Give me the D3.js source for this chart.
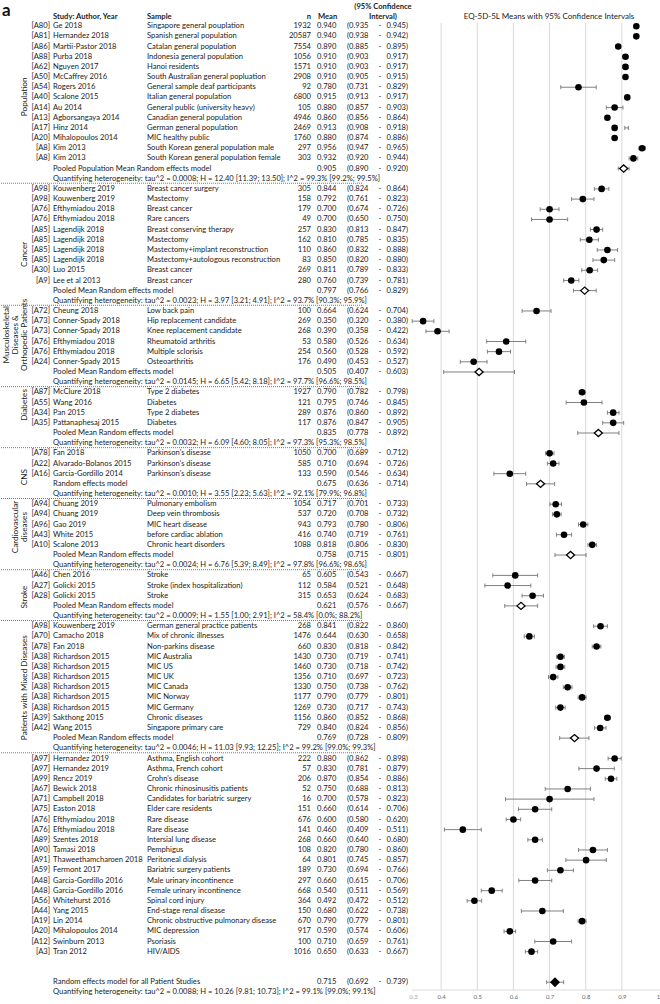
<!DOCTYPE html>
<html><head><meta charset="utf-8">
<script src="https://cdn.jsdelivr.net/npm/d3@7"></script>
<style>
body{margin:0;background:#fff;}
svg{display:block;font-family:Lato,"Open Sans",sans-serif;}
</style></head>
<body><svg id="c" width="660" height="1004"></svg>
<script>
// ---------------- DATA ----------------
// [ref, author/year, sample, n, mean, lower, upper]
const populationStudies = [
 ["[A80]","Ge 2018","Singapore general pouplation",1932,0.940,0.935,0.945],
 ["[A81]","Hernandez 2018","Spanish general population",20587,0.940,0.938,0.942],
 ["[A86]","Martii-Pastor 2018","Catalan general  population",7554,0.890,0.885,0.895],
 ["[A88]","Purba 2018","Indonesia general population",1056,0.910,0.903,0.917],
 ["[A62]","Nguyen 2017","Hanoi residents",1571,0.910,0.903,0.917],
 ["[A50]","McCaffrey 2016","South Australian general popluation",2908,0.910,0.905,0.915],
 ["[A54]","Rogers 2016","General sample deaf participants",92,0.780,0.731,0.829],
 ["[A40]","Scalone 2015","Italian general population",6800,0.915,0.913,0.917],
 ["[A14]","Au 2014","General public (university heavy)",105,0.880,0.857,0.903],
 ["[A13]","Agborsangaya 2014","Canadian general population",4946,0.860,0.856,0.864],
 ["[A17]","Hinz 2014","German general population",2469,0.913,0.908,0.918],
 ["[A20]","Mihalopoulos 2014","MIC healthy public",1760,0.880,0.874,0.886],
 ["[A8]","Kim 2013","South Korean general population male",297,0.956,0.947,0.965],
 ["[A8]","Kim 2013","South Korean general population female",303,0.932,0.920,0.944]
];
const cancerStudies = [
 ["[A98]","Kouwenberg 2019","Breast cancer surgery",305,0.844,0.824,0.864],
 ["[A98]","Kouwenberg 2019","Mastectomy",158,0.792,0.761,0.823],
 ["[A76]","Efthymiadou 2018","Breast cancer",179,0.700,0.674,0.726],
 ["[A76]","Efthymiadou 2018","Rare cancers",49,0.700,0.650,0.750],
 ["[A85]","Lagendijk 2018","Breast conserving therapy",257,0.830,0.813,0.847],
 ["[A85]","Lagendijk 2018","Mastectomy",162,0.810,0.785,0.835],
 ["[A85]","Lagendijk 2018","Mastectomy+implant reconstruction",110,0.860,0.832,0.888],
 ["[A85]","Lagendijk 2018","Mastectomy+autologous reconstruction",83,0.850,0.820,0.880],
 ["[A30]","Luo 2015","Breast cancer",269,0.811,0.789,0.833],
 ["[A9]","Lee et al 2013","Breast cancer",280,0.760,0.739,0.781]
];
const muscStudies = [
 ["[A72]","Cheung 2018","Low back pain",100,0.664,0.624,0.704],
 ["[A73]","Conner-Spady 2018","Hip replacement candidate",269,0.350,0.320,0.380],
 ["[A73]","Conner-Spady 2018","Knee replacement candidate",268,0.390,0.358,0.422],
 ["[A76]","Efthymiadou 2018","Rheumatoid arthritis",53,0.580,0.526,0.634],
 ["[A76]","Efthymiadou 2018","Multiple sclorisis",254,0.560,0.528,0.592],
 ["[A24]","Conner-Spady 2015","Osteoarthritis",176,0.490,0.453,0.527]
];
const diabetesStudies = [
 ["[A87]","McClure 2018","Type 2 diabetes",1927,0.790,0.782,0.798],
 ["[A55]","Wang 2016","Diabetes",121,0.795,0.746,0.845],
 ["[A34]","Pan 2015","Type 2 diabetes",289,0.876,0.860,0.892],
 ["[A35]","Pattanaphesaj 2015","Diabetes",117,0.876,0.847,0.905]
];
const cnsStudies = [
 ["[A78]","Fan 2018","Parkinson's disease",1050,0.700,0.689,0.712],
 ["[A22]","Alvarado-Bolanos 2015","Parkinson's disease",585,0.710,0.694,0.726],
 ["[A16]","Garcia-Gordillo 2014","Parkinson's disease",133,0.590,0.546,0.634]
];
const cardioStudies = [
 ["[A94]","Chuang 2019","Pulmonary embolism",1054,0.717,0.701,0.733],
 ["[A94]","Chuang 2019","Deep vein thrombosis",537,0.720,0.708,0.732],
 ["[A96]","Gao 2019","MIC heart disease",943,0.793,0.780,0.806],
 ["[A43]","White 2015","before cardiac ablation",416,0.740,0.719,0.761],
 ["[A10]","Scalone 2013","Chronic heart disorders",1088,0.818,0.806,0.830]
];
const strokeStudies = [
 ["[A46]","Chen 2016","Stroke",65,0.605,0.543,0.667],
 ["[A27]","Golicki 2015","Stroke (index hospitalization)",112,0.584,0.521,0.648],
 ["[A28]","Golicki 2015","Stroke",315,0.653,0.624,0.683]
];
const mixedStudies = [
 ["[A98]","Kouwenberg 2019","German general practice patients",268,0.841,0.822,0.860],
 ["[A70]","Camacho 2018","Mix of chronic illnesses",1476,0.644,0.630,0.658],
 ["[A78]","Fan 2018","Non-parkins disease",660,0.830,0.818,0.842],
 ["[A38]","Richardson 2015","MIC Australia",1430,0.730,0.719,0.741],
 ["[A38]","Richardson 2015","MIC US",1460,0.730,0.718,0.742],
 ["[A38]","Richardson 2015","MIC UK",1356,0.710,0.697,0.723],
 ["[A38]","Richardson 2015","MIC Canada",1330,0.750,0.738,0.762],
 ["[A38]","Richardson 2015","MIC Norway",1177,0.790,0.779,0.801],
 ["[A38]","Richardson 2015","MIC Germany",1269,0.730,0.717,0.743],
 ["[A39]","Sakthong 2015","Chronic diseases",1156,0.860,0.852,0.868],
 ["[A42]","Wang 2015","Singapore primary care",729,0.840,0.824,0.856]
];
const otherStudies = [
 ["[A97]","Hernandez 2019","Asthma, English cohort",222,0.880,0.862,0.898],
 ["[A97]","Hernandez 2019","Asthma, French cohort",57,0.830,0.781,0.879],
 ["[A99]","Rencz 2019","Crohn's disease",206,0.870,0.854,0.886],
 ["[A67]","Bewick 2018","Chronic rhinosinusitis patients",52,0.750,0.688,0.813],
 ["[A71]","Campbell 2018","Candidates for bariatric surgery",16,0.700,0.578,0.823],
 ["[A75]","Easton 2018","Elder care residents",151,0.660,0.614,0.706],
 ["[A76]","Efthymiadou 2018","Rare disease",676,0.600,0.580,0.620],
 ["[A76]","Efthymiadou 2018","Rare disease",141,0.460,0.409,0.511],
 ["[A89]","Szentes 2018","Intersial lung disease",268,0.660,0.640,0.680],
 ["[A90]","Tamasi 2018","Pemphigus",108,0.820,0.780,0.860],
 ["[A91]","Thaweethamcharoen 2018","Peritoneal dialysis",64,0.801,0.745,0.857],
 ["[A59]","Fermont 2017","Bariatric surgery patients",189,0.730,0.694,0.766],
 ["[A48]","Garcia-Gordillo 2016","Male urinary incontinence",297,0.660,0.615,0.706],
 ["[A48]","Garcia-Gordillo 2016","Female urinary incontinence",668,0.540,0.511,0.569],
 ["[A56]","Whitehurst 2016","Spinal cord injury",364,0.492,0.472,0.512],
 ["[A44]","Yang 2015","End-stage renal disease",150,0.680,0.622,0.738],
 ["[A19]","Lin 2014","Chronic obstructive pulmonary disease",670,0.790,0.779,0.801],
 ["[A20]","Mihalopoulos 2014","MIC depression",917,0.590,0.574,0.606],
 ["[A12]","Swinburn 2013","Psoriasis",100,0.710,0.659,0.761],
 ["[A3]","Tran 2012","HIV/AIDS",1016,0.650,0.633,0.667]
];
// pooled: [label, mean, lower, upper]
const pooledEstimates = [
 ["Pooled Population Mean Random effects model",0.905,0.890,0.920],
 ["Pooled Mean Random effects model",0.797,0.766,0.829],
 ["Pooled Mean Random effects model",0.505,0.407,0.603],
 ["Pooled Mean Random effects model",0.835,0.778,0.892],
 ["Random effects model",0.675,0.636,0.714],
 ["Pooled Mean Random effects model",0.758,0.715,0.801],
 ["Pooled Mean Random effects model",0.621,0.576,0.667],
 ["Pooled Mean Random effects model",0.769,0.728,0.809]
];
const heterogeneity = [
 "tau^2 = 0.0008; H = 12.40 [11.39; 13.50]; I^2 = 99.3% [99.2%; 99.5%]",
 "tau^2 = 0.0023; H = 3.97 [3.21; 4.91]; I^2 = 93.7% [90.3%; 95.9%]",
 "tau^2 = 0.0145; H = 6.65 [5.42; 8.18]; I^2 = 97.7% [96.6%; 98.5%]",
 "tau^2 = 0.0032; H = 6.09 [4.60; 8.05]; I^2 = 97.3% [95.3%; 98.5%]",
 "tau^2 = 0.0010; H = 3.55 [2.23; 5.63]; I^2 = 92.1% [79.9%; 96.8%]",
 "tau^2 = 0.0024; H = 6.76 [5.39; 8.49]; I^2 = 97.8% [96.6%; 98.6%]",
 "tau^2 = 0.0009; H = 1.55 [1.00; 2.91]; I^2 = 58.4% [0.0%; 88.2%]",
 "tau^2 = 0.0046; H = 11.03 [9.93; 12.25]; I^2 = 99.2% [99.0%; 99.3%]"
];
const groupLabels = [
 ["Population"],["Cancer"],["Musculoskeletal","Diseases &","Orthopedic Patients"],
 ["Diabetes"],["CNS"],["Cardiovascular","diseases"],["Stroke"],["Patients with Mixed Diseases"]
];
const overallEstimate = ["Random effects model for all Patient Studies",0.715,0.692,0.739];
const overallHeterogeneity = "tau^2 = 0.0088; H = 10.26 [9.81; 10.73]; I^2 = 99.1% [99.0%; 99.1%]";
const tickValues = [0.3,0.4,0.5,0.6,0.7,0.8,0.9,1];
const tickLabels = ["0.3","0.4","0.5","0.6","0.7","0.8","0.9","1"];
// value as drawn on the chart where it differs from the table
const plottedMeanOverride = {"[A17] Hinz 2014": 0.880};
const noDashRows = ["[A88] Purba 2018"];

// ---------------- LAYOUT ----------------
// vertical centre of each rotated group label, in row units
const labelCenterRows = [7.0, 22.5, 30.4, 37.3, 44.4, 49.3, 56.2, 65.1];

// ---------------- BUILD ROWS ----------------
const groupStudies = [populationStudies,cancerStudies,muscStudies,diabetesStudies,cnsStudies,cardioStudies,strokeStudies,mixedStudies,otherStudies];
const rows = []; const separators = []; const labelSpans = [];
let idx = 0;
groupStudies.forEach((studies,g)=>{
  const start = idx;
  studies.forEach(s=>{ rows.push({type:"study",i:idx++,ref:s[0],author:s[1],sample:s[2],n:s[3],mean:s[4],lo:s[5],hi:s[6]}); });
  if (g < pooledEstimates.length) {
    const p = pooledEstimates[g];
    rows.push({type:"pooled",i:idx++,label:p[0],mean:p[1],lo:p[2],hi:p[3]});
    rows.push({type:"het",i:idx++,label:"Quantifying heterogeneity: "+heterogeneity[g]});
    labelSpans.push({lines:groupLabels[g],center:labelCenterRows[g]});
    separators.push(idx-0.5);
  }
});
idx += 2;
rows.push({type:"overall",i:idx++,label:overallEstimate[0],mean:overallEstimate[1],lo:overallEstimate[2],hi:overallEstimate[3]});
rows.push({type:"het",i:idx++,label:"Quantifying heterogeneity: "+overallHeterogeneity});

// ---------------- DRAW ----------------
const svg = d3.select("#c");
const y = d3.scaleLinear().domain([0,95]).range([25.6, 25.6+95*10.17]);
const x = d3.scaleLinear().domain([0.3,1]).range([405,658]);
const FS = 7.6, txt = "#222";

// panel letter
svg.append("text").attr("x",2).attr("y",15.5).attr("font-size",17).attr("font-weight","bold").attr("fill","#111").text("a");

// headers
const hdr = svg.append("g").attr("font-size",FS).attr("font-weight","bold").attr("fill",txt);
hdr.append("text").attr("x",53).attr("y",18.5).text("Study: Author, Year");
hdr.append("text").attr("x",147).attr("y",18.5).text("Sample");
hdr.append("text").attr("x",311).attr("y",18.5).attr("text-anchor","end").text("n");
hdr.append("text").attr("x",318).attr("y",18.5).text("Mean");
hdr.append("text").attr("x",383).attr("y",8.5).attr("text-anchor","middle").text("(95% Confidence");
hdr.append("text").attr("x",383).attr("y",18.5).attr("text-anchor","middle").text("Interval)");

// plot title
svg.append("text").attr("x",549).attr("y",18.5).attr("text-anchor","middle").attr("font-size",8).attr("fill",txt).text("EQ-5D-5L Means with 95% Confidence Intervals");

// gridlines
const plotG = svg.append("g");
plotG.selectAll("line.grid").data(tickValues.filter(v=>v>0.35 && v<0.95)).join("line")
  .attr("x1",d=>x(d)).attr("x2",d=>x(d)).attr("y1",23).attr("y2",990)
  .attr("stroke","#d9d9d9").attr("stroke-width",1);

// x axis (0.3 label sits just inside the plot edge, partly hidden)
const axG = svg.append("g").attr("transform","translate(0,990)")
  .call(d3.axisBottom(x).tickValues(tickValues).tickSize(0).tickPadding(5).tickFormat((d,i)=>tickLabels[i]));
axG.select(".domain").remove();
axG.selectAll("text").attr("font-size",6).attr("fill","#666").attr("font-family","Lato,sans-serif");
axG.selectAll(".tick").filter(d=>d===0.3).select("text").attr("dx",8).attr("fill","#aaa");
svg.append("line").attr("x1",412).attr("x2",660).attr("y1",990).attr("y2",990).attr("stroke","#d9d9d9");

// separators
svg.selectAll("line.sep").data(separators).join("line")
  .attr("x1",1).attr("x2",363).attr("y1",d=>y(d)).attr("y2",d=>y(d))
  .attr("stroke","#555").attr("stroke-width",0.8).attr("stroke-dasharray","1,1");

// group labels
labelSpans.forEach(sp=>{
  const cy = y(sp.center);
  const n = sp.lines.length;
  const g = svg.append("g").attr("transform",`translate(${24 - (n-1)*9},${cy}) rotate(-90)`);
  sp.lines.forEach((ln,j)=>{
    g.append("text").attr("x",0).attr("y",j*9).attr("dy","0.35em").attr("text-anchor","middle")
     .attr("font-size",8.2).attr("fill",txt).text(ln);
  });
});

// table text
const tg = svg.append("g").attr("font-size",FS).attr("fill",txt);
rows.forEach(r=>{
  const yy = y(r.i);
  const t = (xx,s,anchor)=>tg.append("text").attr("x",xx).attr("y",yy).attr("dy","0.35em").attr("text-anchor",anchor||"start").text(s);
  if (r.type==="study") {
    t(50,r.ref,"end"); t(53,r.author); t(147,r.sample); t(311,d3.format("d")(r.n),"end");
  } else {
    t(53,r.label);
  }
  if (r.type!=="het") {
    t(317,r.mean.toFixed(3));
    t(347,"("+r.lo.toFixed(3));
    if (!noDashRows.includes(r.ref+" "+r.author)) t(380,"-","middle");
    t(408,r.hi.toFixed(3)+")","end");
  }
});

// forest marks
const marks = rows.filter(r=>r.type!=="het");
const py = i=>y(i)+0.6;
const eg = svg.append("g").attr("stroke","#808080").attr("stroke-width",1);
marks.forEach(r=>{
  const yy = py(r.i);
  eg.append("line").attr("x1",x(r.lo)).attr("x2",x(r.hi)).attr("y1",yy).attr("y2",yy);
  eg.append("line").attr("x1",x(r.lo)).attr("x2",x(r.lo)).attr("y1",yy-2).attr("y2",yy+2);
  eg.append("line").attr("x1",x(r.hi)).attr("x2",x(r.hi)).attr("y1",yy-2).attr("y2",yy+2);
});
marks.forEach(r=>{
  const yy = py(r.i);
  if (r.type==="study") {
    const key = r.ref+" "+r.author;
    const m = plottedMeanOverride[key]!==undefined ? plottedMeanOverride[key] : r.mean;
    svg.append("circle").attr("cx",x(m)).attr("cy",yy).attr("r",3.3).attr("fill","#000");
  } else if (r.type==="pooled") {
    const cx = x(r.mean);
    svg.append("path").attr("d",`M${cx-4},${yy}L${cx},${yy-3.6}L${cx+4},${yy}L${cx},${yy+3.6}Z`)
      .attr("fill","#fff").attr("stroke","#000").attr("stroke-width",1.3);
  } else {
    const cx = x(r.mean);
    svg.append("path").attr("d",`M${cx-5},${yy}L${cx},${yy-5}L${cx+5},${yy}L${cx},${yy+5}Z`).attr("fill","#000");
  }
});
</script></body></html>
